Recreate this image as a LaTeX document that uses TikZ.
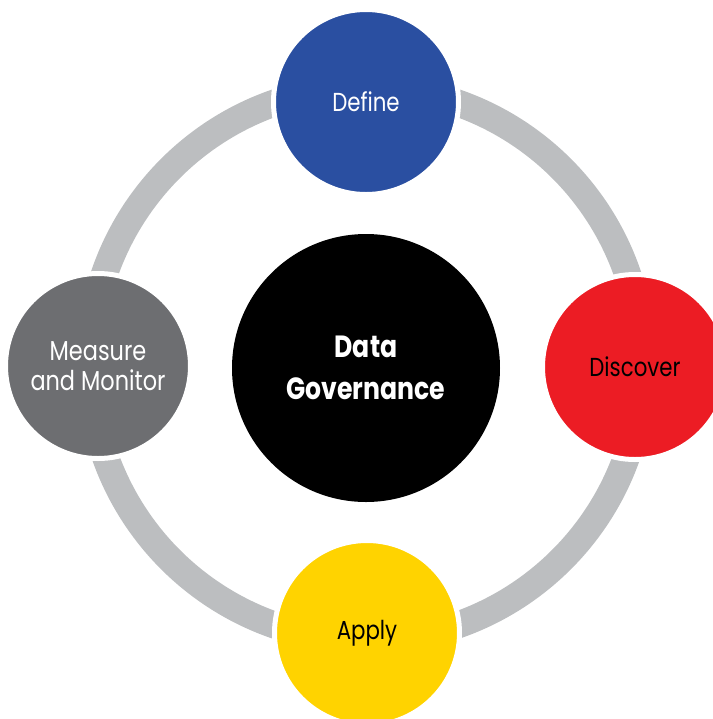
\documentclass[tikz,border=0pt]{standalone}
\usepackage{fontspec}
\setmainfont{Poppins}[FakeStretch=0.82]
\definecolor{ringgray}{HTML}{BCBEC0}
\definecolor{defblue}{HTML}{2A4FA1}
\definecolor{discred}{HTML}{EC1C24}
\definecolor{applyyellow}{HTML}{FFD300}
\definecolor{measgray}{HTML}{6D6E71}
\tikzset{
  sat/.style={circle, draw=white, line width=3.75pt, minimum size=138.75pt, inner sep=0pt, align=center, font=\fontsize{19.5}{22}\selectfont},
  hub/.style={circle, fill=black, minimum size=201pt, inner sep=0pt, align=center, text=white, font=\bfseries\fontsize{23}{31}\selectfont}
}
\begin{document}
\begin{tikzpicture}[x=0.75pt,y=-0.75pt]
\useasboundingbox (0,0) rectangle (713,719);
\clip (0,0) rectangle (713,719);
\coordinate (c) at (366,364);
\draw[ringgray, line width=20.25pt] (c) circle[radius=207.4pt];
\node[hub] (dg) at (366,368) {Data\\Governance};
\node[sat, fill=defblue, text=white] (define) at (366,102) {Define};
\node[sat, fill=discred, text=black] (discover) at (635,367) {Discover};
\node[sat, fill=applyyellow, text=black] (apply) at (367,633) {Apply};
\node[sat, fill=measgray, text=white, font=\fontsize{20.5}{22.5}\selectfont] (measure) at (98,366) {Measure\\and Monitor};
\end{tikzpicture}
\end{document}
